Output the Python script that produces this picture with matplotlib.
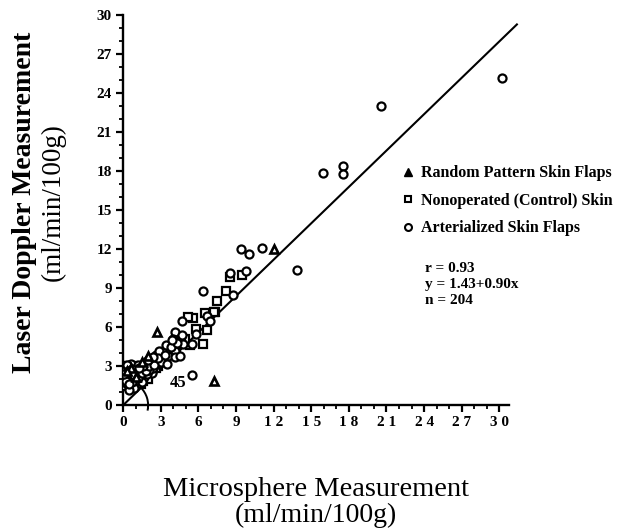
import numpy as np
import matplotlib.pyplot as plt
from matplotlib.patches import Arc
from matplotlib.lines import Line2D

plt.rcParams['font.family'] = ['Liberation Serif', 'DejaVu Serif']

# Random pattern skin flaps (triangles)
rand_x = [2.7, 7.25, 12.0, 2.0, 1.5, 0.6, 1.0, 0.3]
rand_y = [5.6, 1.9, 12.0, 3.8, 3.3, 2.9, 2.2, 2.6]

# Nonoperated (control) skin (squares)
ctrl_x = [8.5, 9.5, 8.2, 7.5, 7.3, 6.5, 5.6, 6.7, 6.4, 5.8, 5.3, 7.25, 5.2,
          4.4, 3.6, 3.0, 2.6, 2.3, 1.9, 1.5, 1.1, 0.8, 0.4, 0.3, 0.2, 0.5,
          1.2, 2.8, 3.4, 4.2, 4.9, 2.0, 0.7, 1.4, 0.1, 0.6, 0.9, 1.7, 2.4,
          0.2, 0.6, 1.0, 1.3, 1.7, 2.2, 2.6, 3.1, 3.8, 4.6, 0.4, 0.8, 1.6,
          2.0, 3.3]
ctrl_y = [9.9, 10.0, 8.8, 8.0, 7.2, 7.1, 6.7, 5.8, 4.7, 5.9, 4.6, 7.2, 6.8,
          5.2, 4.3, 3.9, 3.5, 2.8, 2.5, 2.1, 1.9, 1.6, 1.8, 2.4, 3.0, 3.0,
          2.6, 3.0, 3.6, 4.4, 5.1, 2.0, 1.4, 1.6, 2.1, 2.2, 2.7, 3.0, 3.3,
          1.5, 2.0, 2.7, 2.3, 2.8, 3.2, 2.9, 3.4, 4.0, 4.9, 2.9, 3.0, 1.9,
          2.7, 4.1]

# Arterialized skin flaps (circles)
art_x = [30.2, 20.6, 15.9, 17.5, 17.5, 13.9, 11.05, 10.0, 9.4, 9.8, 8.5,
         6.4, 8.8, 6.7, 6.9, 4.7, 5.8, 4.1, 4.0, 4.7, 4.8, 5.5, 3.2, 3.7,
         4.1, 3.1, 3.6, 4.1, 4.5, 2.6, 2.2, 2.7, 1.8, 2.3, 1.4, 1.0, 0.6,
         0.4, 0.8, 1.3, 1.7, 0.3, 0.9, 0.5, 3.0, 3.5, 2.4, 1.9, 1.1, 0.2,
         0.6, 0.3, 1.2, 2.9, 3.4, 5.5, 1.5, 2.1, 0.7,
         0.2, 0.4, 0.7, 0.9, 1.2, 1.5, 1.8, 2.1, 2.5, 2.8, 3.3, 3.8, 4.3,
         1.6, 2.0, 2.4, 0.1, 0.5, 1.3, 3.9]
art_y = [25.2, 23.0, 17.9, 18.4, 17.8, 10.4, 12.1, 11.6, 12.0, 10.3, 10.2,
         8.8, 8.5, 6.9, 6.5, 6.5, 5.5, 5.6, 5.1, 5.4, 4.7, 4.7, 4.2, 4.2,
         4.2, 3.7, 3.8, 3.7, 3.8, 3.9, 3.4, 3.2, 2.9, 2.5, 2.6, 2.9, 2.5,
         2.0, 2.1, 1.9, 2.2, 1.6, 1.3, 1.2, 3.3, 3.2, 2.9, 2.4, 2.4, 2.8,
         3.2, 3.1, 3.1, 4.2, 4.6, 2.3, 1.8, 2.7, 1.8,
         1.9, 2.6, 2.8, 2.3, 2.1, 2.5, 2.6, 3.0, 3.1, 3.6, 3.9, 4.5, 4.8,
         3.0, 3.5, 3.7, 2.4, 1.6, 2.9, 5.0]

line_x = [0, 31.4]
line_y = [0, 29.3]

legend_labels = ['Random Pattern Skin Flaps', 'Nonoperated (Control) Skin',
                 'Arterialized Skin Flaps']
stats = ['r = 0.93', 'y = 1.43+0.90x', 'n = 204']

fig = plt.figure(figsize=(6.25, 5.29), dpi=100)
ax = fig.add_axes([0.197, 0.234, 0.618, 0.737])

ax.plot(line_x, line_y, color='black', lw=1.5, clip_on=False, zorder=2)
ax.plot(ctrl_x, ctrl_y, ls='none', marker='s', ms=5.2, mfc='white',
        mec='black', mew=1.6, zorder=3)
ax.plot(art_x, art_y, ls='none', marker='o', ms=5.8, mfc='white',
        mec='black', mew=1.6, zorder=3)
ax.plot(rand_x, rand_y, ls='none', marker='^', ms=5.5, mfc='white',
        mec='black', mew=1.9, zorder=4)

# 45 degree arc
ax.add_patch(Arc((0, 0), 2 * 25 / 12.55, 2 * 25 / 13, theta1=-12, theta2=45,
                 color='black', lw=1.4, clip_on=False))
ax.text(4.4, 1.7, '45', fontsize=12, fontweight='bold', ha='center', va='center')

ax.set_xlim(0, 30.8)
ax.set_ylim(0, 30)
ax.set_xticks(np.arange(0, 31, 3))
ax.set_xticklabels([' '.join(str(v)) for v in range(0, 31, 3)])
ax.set_yticks(np.arange(0, 31, 3))
ax.set_xticks(np.arange(0, 31, 1), minor=True)
ax.set_yticks(np.arange(0, 31, 1), minor=True)
for s in ['top', 'right']:
    ax.spines[s].set_visible(False)
for s in ['left', 'bottom']:
    ax.spines[s].set_linewidth(1.7)
ax.tick_params(which='major', length=5, width=1.6, labelsize=11, pad=3)
ax.tick_params(which='minor', length=3, width=1.3)
for lab in ax.get_xticklabels() + ax.get_yticklabels():
    lab.set_fontweight('bold')

handles = [Line2D([], [], ls='none', marker='^', ms=5.5, mfc='black', mec='black'),
           Line2D([], [], ls='none', marker='s', ms=5, mfc='white', mec='black', mew=1.5),
           Line2D([], [], ls='none', marker='o', ms=5, mfc='white', mec='black', mew=1.5)]
leg = ax.legend(handles, legend_labels, loc='upper left', bbox_to_anchor=(0.70, 0.632),
                frameon=False, prop={'size': 11.5, 'weight': 'bold'},
                handletextpad=0.35, labelspacing=0.72, handlelength=1.0,
                borderaxespad=0)
leg.set_clip_on(False)

ax.text(0.782, 0.368, '\n'.join(stats), transform=ax.transAxes, fontsize=11,
        fontweight='bold', va='top', ha='left', linespacing=1.32)

fig.text(0.04, 0.618, 'Laser Doppler Measurement', rotation=90, fontsize=20,
         fontweight='bold', ha='center', va='center')
fig.text(0.085, 0.618, '(ml/min/100g)', rotation=90, fontsize=19.5,
         ha='center', va='center')
fig.text(0.505, 0.074, 'Microsphere Measurement', fontsize=20.5,
         ha='center', va='center')
fig.text(0.505, 0.025, '(ml/min/100g)', fontsize=20,
         ha='center', va='center')

fig.savefig('out.png', dpi=100)
